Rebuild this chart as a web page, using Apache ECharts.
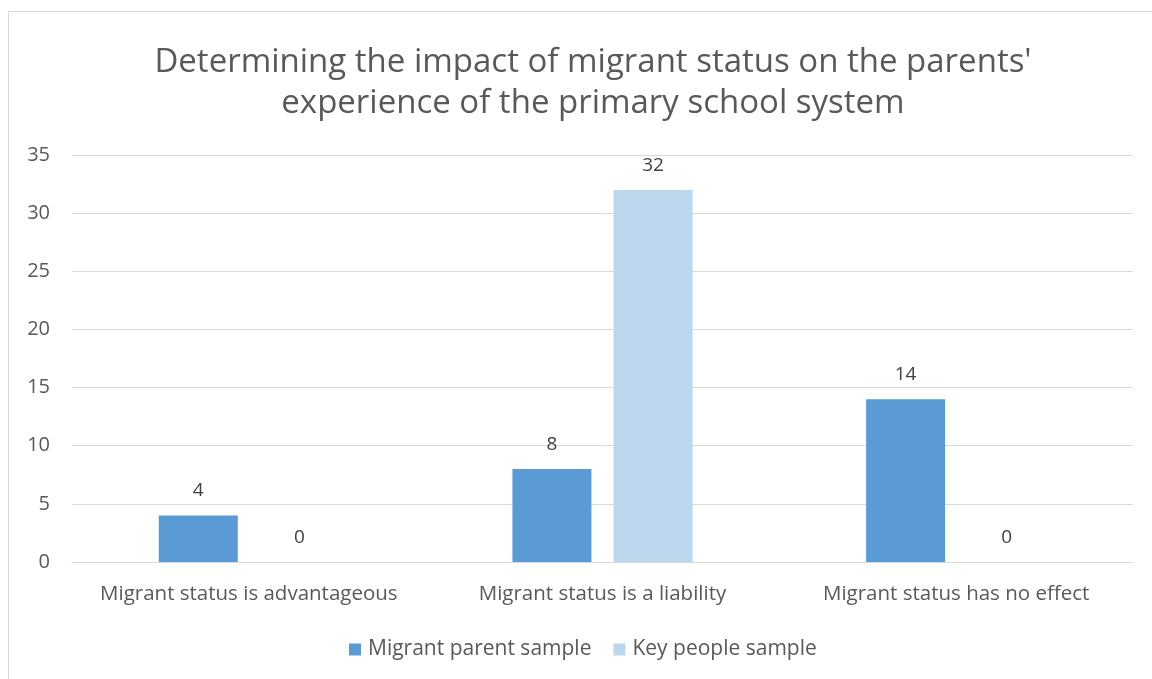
<!DOCTYPE html>
<html><head><meta charset="utf-8">
<script src="https://cdn.jsdelivr.net/npm/echarts@6/dist/echarts.min.js"></script>
<style>html,body{margin:0;padding:0;background:#fff;}#c{width:1152px;height:679px;}
#b{position:absolute;left:8px;top:11px;width:1160px;height:700px;border:1px solid #d9d9d9;pointer-events:none;}</style>
</head><body><div id="c"></div><div id="b"></div>
<script>
const titleText = "Determining the impact of migrant status on the parents'\nexperience of the primary school system";
const categories = ["Migrant status is advantageous", "Migrant status is a liability", "Migrant status has no effect"];
const migrantParent = [4, 8, 14];
const keyPeople = [0, 32, 0];
const seriesNames = ["Migrant parent sample", "Key people sample"];
const yTicks = {min: 0, max: 35, interval: 5};

const F = '"Open Sans", Lato, sans-serif';
const chart = echarts.init(document.getElementById('c'));
const lbl = {show: true, position: 'top', distance: 15, fontFamily: F, fontSize: 19, color: '#404040'};
chart.setOption({
  animation: false,
  title: {text: titleText, left: 588, textAlign: 'center', top: 37,
    textStyle: {fontFamily: F, fontSize: 33, fontWeight: 'normal', color: '#595959', lineHeight: 41}},
  legend: {top: 634, left: 344, itemWidth: 12, itemHeight: 12, itemGap: 22, icon: 'rect',
    textStyle: {fontFamily: F, fontSize: 21, color: '#595959', padding: [0,0,0,2]}},
  grid: {left: 72, right: 19, top: 155, bottom: 117},
  xAxis: {type: 'category', data: categories,
    axisLine: {lineStyle: {color: '#d9d9d9', width: 1}}, axisTick: {show: false},
    axisLabel: {interval: 0, fontFamily: F, fontSize: 20.5, color: '#595959', margin: 22}},
  yAxis: {type: 'value', min: yTicks.min, max: yTicks.max, interval: yTicks.interval,
    axisLine: {show: false}, axisTick: {show: false},
    splitLine: {lineStyle: {color: '#d9d9d9', width: 1}},
    axisLabel: {fontFamily: F, fontSize: 20, color: '#595959', margin: 22}},
  series: [
    {name: seriesNames[0], type: 'bar', data: migrantParent, barWidth: 79, barGap: '28%',
     itemStyle: {color: '#5b9bd5'}, label: lbl},
    {name: seriesNames[1], type: 'bar', data: keyPeople, barWidth: 79,
     itemStyle: {color: '#bdd7ee'}, label: lbl}
  ]
});
</script></body></html>
